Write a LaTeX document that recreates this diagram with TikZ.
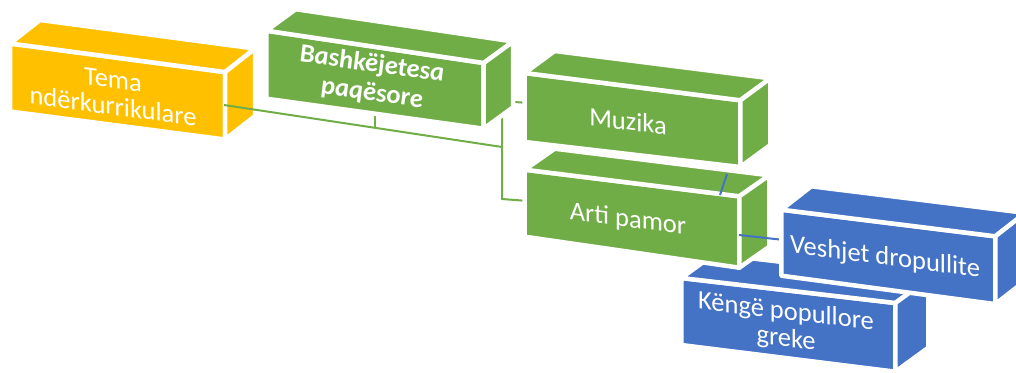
\documentclass[tikz,border=0pt]{standalone}
\usepackage{fontspec}
\setmainfont{Carlito}
\usetikzlibrary{calc}
\definecolor{orng}{HTML}{FFC000}
\definecolor{grn}{HTML}{70AD47}
\definecolor{blu}{HTML}{4472C4}
\tikzset{
  face/.style={fill=#1, draw=white, line width=4.5pt, line join=round},
  lbl/.style={text=white, align=center, inner sep=0pt, font=\fontsize{26.5}{27}\selectfont},
  gline/.style={draw=grn, line width=2pt},
  bline/.style={draw=blu, line width=2pt},
}
% #1 name, #2 colour, #3 x, #4 y, #5 width, #6 top drop, #7 bottom drop, #8 height, #9 depth vector
\newcommand\drawcuboid[9]{%
  \coordinate (#1-tl) at (#3,#4);
  \coordinate (#1-tr) at ({#3+#5},{#4+#6});
  \coordinate (#1-br) at ({#3+#5},{#4+#7+#8});
  \coordinate (#1-bl) at (#3,{#4+#8});
  \coordinate (#1-btl) at ($(#1-tl)+(#9)$);
  \coordinate (#1-btr) at ($(#1-tr)+(#9)$);
  \coordinate (#1-bbr) at ($(#1-br)+(#9)$);
  \path[face=#2] (#1-tl) -- (#1-tr) -- (#1-br) -- (#1-bl) -- cycle;
  \path[face=#2] (#1-tl) -- (#1-btl) -- (#1-btr) -- (#1-tr) -- cycle;
  \path[face=#2] (#1-tr) -- (#1-btr) -- (#1-bbr) -- (#1-br) -- cycle;
}
\begin{document}
\begin{tikzpicture}[x=1pt,y=-1pt]
\useasboundingbox (0,0) rectangle (1016,372);
\clip (0,0) rectangle (1016,372);

% Tema box
\drawcuboid{tema}{orng}{10}{43.5}{215}{28.6}{28}{68}{30,-23.5}

% green connectors
\coordinate (g-start) at (224,105);
\coordinate (g-junc) at (502,147);
\coordinate (g-tick) at (375,127.8);
\coordinate (g-tickend) at (375,110);
\coordinate (g-top) at (502,101);
\coordinate (g-bot) at (502,199);
\coordinate (g-muz) at (528,103);
\coordinate (g-art) at (528,201);
\draw[gline] (g-start) -- (g-junc);
\draw[gline] (g-tick) -- (g-tickend);
\draw[gline] (g-muz) -- (g-top) -- (g-bot) -- (g-art);

% Bashkejetesa, Muzika
\drawcuboid{bash}{grn}{266.3}{30.7}{217.4}{32.3}{30}{68}{29.5,-21.5}
\drawcuboid{muz}{grn}{524.7}{73}{215.6}{27.3}{25}{69}{30,-22}

% Kenge (behind), Arti pamor
\drawcuboid{keng}{blu}{681.3}{278}{214}{25}{26.7}{67}{33,-24}
\drawcuboid{art}{grn}{524.7}{169.7}{214.6}{26.6}{31}{67}{30,-21}

% blue connectors
\coordinate (b-top) at (727,174);
\coordinate (b-down) at (720,195);
\coordinate (b-from) at (739,235);
\coordinate (b-to) at (784,240);
\draw[bline] (b-top) -- (b-down);
\draw[bline] (b-from) -- (b-to);

% Veshjet
\drawcuboid{vesh}{blu}{781.3}{209.7}{214}{26.6}{28.4}{66}{30,-23.4}

% labels
\node[lbl, yslant=-0.135] (tTema) at (113,93) {Tema\\ndërkurrikulare};
\node[lbl, yslant=-0.14, font=\fontsize{26.5}{29}\selectfont\bfseries\itshape] (tBash) at (372,79) {Bashkëjetesa\\paqësore};
\node[lbl, yslant=-0.125] (tMuz) at (628,121) {Muzika};
\node[lbl, yslant=-0.135] (tArt) at (628,220) {Arti pamor};
\node[lbl, yslant=-0.13] (tVesh) at (885,258) {Veshjet dropullite};
\node[lbl, yslant=-0.12] (tKeng) at (786,326) {Këngë popullore\\greke};
\end{tikzpicture}
\end{document}
